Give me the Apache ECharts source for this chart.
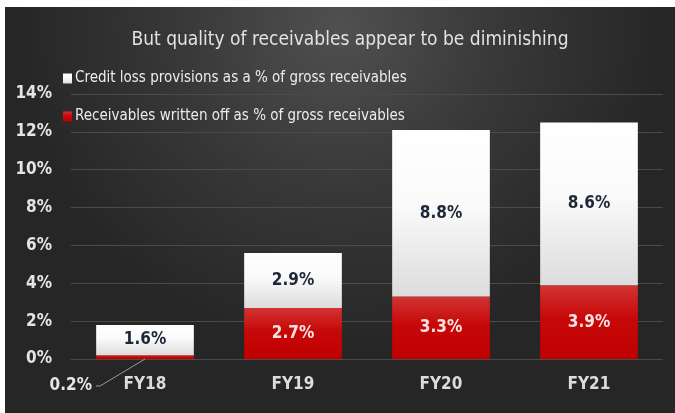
<!DOCTYPE html>
<html>
<head>
<meta charset="utf-8">
<script src="https://cdn.jsdelivr.net/npm/echarts@6/dist/echarts.min.js"></script>
<style>html,body{margin:0;padding:0;background:#fff;}#c{width:675px;height:413px;}</style>
</head>
<body>
<div id="c"></div>
<script>
var categories = ['FY18', 'FY19', 'FY20', 'FY21'];
var writtenOff = [0.2, 2.7, 3.3, 3.9];
var provisions = [1.6, 2.9, 8.8, 8.6];
var seriesNames = ['Credit loss provisions as a % of gross receivables', 'Receivables written off as % of gross receivables'];
var titleText = 'But quality of receivables appear to be diminishing';

var FONT = '"Liberation Sans Narrow", "DejaVu Sans Condensed", sans-serif';
var THIN = 0.5; // segments thinner than this get an outside label with a leader line
var chart = echarts.init(document.getElementById('c'), null, {renderer: 'canvas'});

function pct(v) { return v.toFixed(1) + '%'; }

var redData = writtenOff.map(function (v) {
  return v < THIN ? {value: v, label: {show: false}} : v;
});
var thinData = [];
writtenOff.forEach(function (v, i) { if (v < THIN) thinData.push([categories[i], v]); });

chart.setOption({
  backgroundColor: '#ffffff',
  animation: false,
  graphic: [{
    type: 'rect', left: 5, top: 7, z: -10, silent: true,
    shape: {width: 670, height: 406},
    style: {
      fill: {
        type: 'radial', x: 0.5, y: 0.05, r: 0.8,
        colorStops: [
          {offset: 0, color: '#505050'},
          {offset: 0.5, color: '#383838'},
          {offset: 1, color: '#262626'}
        ]
      }
    }
  }],
  title: {
    text: titleText,
    left: 345, textAlign: 'center', top: 26,
    textStyle: {color: '#e2e2e2', fontFamily: '"DejaVu Sans Condensed", sans-serif', fontSize: 19, fontWeight: 'normal'}
  },
  legend: {
    orient: 'vertical', left: 58, top: 66, itemGap: 23,
    itemWidth: 9, itemHeight: 10, icon: 'rect',
    data: seriesNames,
    textStyle: {color: '#ececec', fontFamily: FONT, fontSize: 15, padding: [0, 0, 0, -2]}
  },
  grid: {left: 71, right: 12, top: 94, bottom: 54},
  xAxis: {
    type: 'category', data: categories,
    axisLine: {show: false}, axisTick: {show: false},
    axisLabel: {color: '#dcdcdc', fontFamily: FONT, fontSize: 17, fontWeight: 'bold', margin: 17}
  },
  yAxis: {
    type: 'value', min: 0, max: 14, interval: 2,
    axisLine: {show: false}, axisTick: {show: false},
    axisLabel: {color: '#e4e4e4', fontFamily: FONT, fontSize: 17, fontWeight: 'bold', margin: 19, formatter: '{value}%'},
    splitLine: {lineStyle: {color: '#4b4b4b', width: 1}}
  },
  series: [
    {
      name: seriesNames[1], type: 'bar', stack: 'a', barWidth: '66%',
      data: redData,
      itemStyle: {
        color: {type: 'linear', x: 0, y: 0, x2: 0, y2: 1, colorStops: [
          {offset: 0, color: '#d23434'}, {offset: 0.45, color: '#c70808'}, {offset: 1, color: '#c00000'}
        ]}
      },
      label: {
        show: true, position: 'inside', color: '#f6e2e2', fontFamily: FONT, fontSize: 17, fontWeight: 'bold',
        formatter: function (p) { return pct(p.value); }
      }
    },
    {
      name: seriesNames[0], type: 'bar', stack: 'a', barWidth: '66%',
      data: provisions,
      itemStyle: {
        color: {type: 'linear', x: 0, y: 0, x2: 0, y2: 1, colorStops: [
          {offset: 0, color: '#ffffff'}, {offset: 0.45, color: '#fafafa'}, {offset: 1, color: '#dcdcdc'}
        ]}
      },
      label: {
        show: true, position: 'inside', color: '#1d2738', fontFamily: FONT, fontSize: 17, fontWeight: 'bold',
        formatter: function (p) { return pct(p.value); }
      }
    },
    {
      type: 'custom', silent: true, z: 5,
      data: thinData,
      renderItem: function (params, api) {
        var p = api.coord([api.value(0), 0]);
        var end = [p[0] - 45, p[1] + 27];
        return {
          type: 'group',
          children: [
            {type: 'polyline', shape: {points: [[p[0], p[1]], end, [end[0] - 4, end[1]]]},
              style: {stroke: '#9a9a9a', lineWidth: 1, fill: null}},
            {type: 'text', style: {
              text: pct(api.value(1)), x: end[0] - 8, y: end[1],
              align: 'right', verticalAlign: 'middle',
              fill: '#e6e6e6', font: 'bold 17px ' + FONT
            }}
          ]
        };
      }
    }
  ]
});
</script>
</body>
</html>
